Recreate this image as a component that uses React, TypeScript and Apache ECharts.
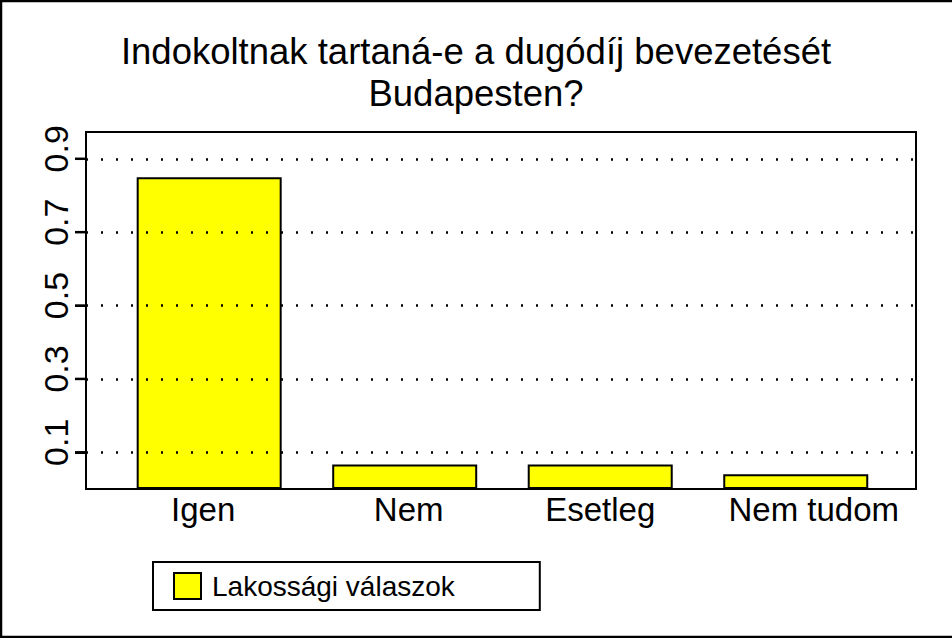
import React, { useEffect, useRef } from "react";
import * as echarts from "echarts";

const titleLines = ["Indokoltnak tartaná-e a dugódíj bevezetését", "Budapesten?"];
const categories = ["Igen", "Nem", "Esetleg", "Nem tudom"];
const values = [0.85, 0.067, 0.067, 0.04];
const seriesName = "Lakossági válaszok";
const yTicks = [0.1, 0.3, 0.5, 0.7, 0.9];
const yMin = 0;
const yMax = 0.973;
const xMin = -0.63;
const xMax = 3.615;

const FONT = "'Liberation Sans', Arial, Helvetica, sans-serif";

// small per-label nudges (left, right padding) to mimic the original label placement
const labelPads: [number, number][] = [
  [0, 12],
  [8, 0],
  [0, 0],
  [36, 0],
];

export default function App() {
  const ref = useRef<HTMLDivElement>(null);
  useEffect(() => {
    if (!ref.current) return;
    const chart = echarts.init(ref.current, null, { renderer: "svg" });
    const catIdx = categories.map((_, i) => i);
    const rich: Record<string, any> = {};
    labelPads.forEach((p, i) => {
      rich["c" + i] = {
        fontFamily: FONT,
        fontSize: 33,
        lineHeight: 33,
        color: "#000",
        padding: [0, p[1], 0, p[0]],
      };
    });
    chart.setOption({
      animation: false,
      backgroundColor: "#ffffff",
      textStyle: { fontFamily: FONT, color: "#000" },
      title: {
        text: titleLines.join("\n"),
        left: "center",
        top: 30,
        padding: 0,
        textStyle: {
          fontFamily: FONT,
          fontSize: 36.5,
          lineHeight: 42,
          fontWeight: "normal",
          color: "#000",
        },
      },
      grid: {
        left: 86,
        right: 36,
        top: 132,
        bottom: 149,
        show: true,
        borderColor: "#000",
        borderWidth: 2,
      },
      legend: {
        left: 153,
        top: 562,
        data: [seriesName],
        icon: "rect",
        itemWidth: 27,
        itemHeight: 26,
        borderColor: "#000",
        borderWidth: 2,
        padding: [10, 85, 10, 20],
        textStyle: { fontFamily: FONT, fontSize: 28, color: "#000", padding: [0, 0, 0, 6] },
      },
      xAxis: {
        type: "value",
        min: xMin,
        max: xMax,
        axisLine: { show: false, onZero: false },
        axisTick: { show: false },
        splitLine: { show: false },
        axisLabel: {
          customValues: catIdx,
          formatter: (v: number) => {
            const i = Math.round(v);
            return categories[i] != null ? `{c${i}|${categories[i]}}` : "";
          },
          rich,
          fontFamily: FONT,
          fontSize: 33,
          lineHeight: 33,
          color: "#000",
          margin: 4,
        },
      },
      yAxis: {
        type: "value",
        min: yMin,
        max: yMax,
        axisLine: { show: true, onZero: false, lineStyle: { color: "#000", width: 2 } },
        axisTick: {
          show: true,
          customValues: yTicks,
          length: 11,
          lineStyle: { color: "#000", width: 2 },
        },
        splitLine: { show: false },
        axisLabel: {
          customValues: yTicks,
          rotate: 90,
          formatter: (v: number) => String(v),
          fontFamily: FONT,
          fontSize: 34,
          lineHeight: 34,
          color: "#000",
          margin: 13,
          padding: [0, 0, 0, 20],
        },
      },
      series: [
        {
          type: "custom",
          clip: false,
          data: yTicks.map((v) => [xMin, v]),
          renderItem: (_params: any, api: any) => {
            const p = api.coord([api.value(0), api.value(1)]);
            return {
              type: "rect",
              shape: { x: p[0] - 11, y: p[1] - 1.25, width: 11, height: 2.5 },
              style: { fill: "#000" },
            };
          },
        },
        {
          type: "line",
          name: "grid",
          data: [],
          z: 1,
          silent: true,
          markLine: {
            silent: true,
            symbol: ["none", "none"],
            label: { show: false },
            lineStyle: { color: "#000", type: [2, 13], width: 2.5 },
            data: yTicks.map((v) => ({ yAxis: v })),
          },
        },
        {
          type: "bar",
          name: seriesName,
          barWidth: 145,
          data: values.map((v, i) => [i, v]),
          itemStyle: { color: "#ffff00", borderColor: "#000", borderWidth: 2 },
        },
      ],
      graphic: [
        {
          type: "rect",
          shape: { x: 1, y: 1, width: 980, height: 636 },
          style: { fill: "none", stroke: "#000", lineWidth: 2.5 },
          z: 100,
        },
      ],
    });
    return () => chart.dispose();
  }, []);
  return (
    <div
      ref={ref}
      style={{ position: "absolute", left: 0, top: 0, width: 952, height: 638 }}
    />
  );
}
